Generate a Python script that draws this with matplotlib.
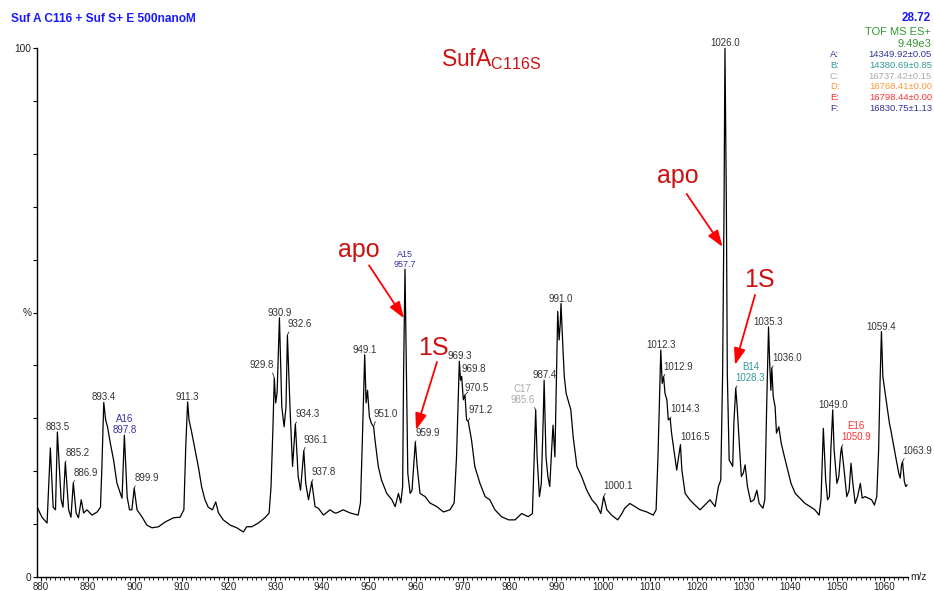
import numpy as np
import matplotlib
matplotlib.use("Agg")
import matplotlib.pyplot as plt
from matplotlib.ticker import MultipleLocator

plt.rcParams['font.family'] = ['Liberation Sans', 'DejaVu Sans']
plt.rcParams['mathtext.fontset'] = 'custom'
plt.rcParams['mathtext.rm'] = 'Liberation Sans'

# ---------------- data ----------------
title = "Suf A C116 + Suf S+ E 500nanoM"
retention = "28.72"
scan_type = "TOF MS ES+"
base_peak = "9.49e3"

series_letters = ['A', 'B', 'C', 'D', 'E', 'F']
series_mass = [14349.92, 14380.69, 16737.42, 16768.41, 16798.44, 16830.75]
series_err = [0.05, 0.85, 0.15, 0.00, 0.00, 1.13]
series_colors = ['#333399', '#339999', '#aaaaaa', '#ff9933', '#ff3333', '#333399']

mz = [
    879.2, 880.2, 881.3, 882.0, 882.6, 883.1, 883.5, 884.3, 884.7, 885.2, 885.9, 886.4, 886.9, 887.5, 888.0, 888.6, 889.1, 889.8, 890.9, 892.0, 892.7,
    893.0, 893.4, 893.8, 894.2, 894.8, 895.5, 896.2, 896.9, 897.3, 897.8, 898.4, 898.9, 899.4, 899.9, 900.5, 901.6, 902.6, 903.7, 905.1, 906.5, 908.3, 909.7, 910.5,
    910.9, 911.3, 911.6, 912.2, 912.9, 913.6, 914.3, 915.0, 915.7, 916.6, 917.3, 917.9, 918.9, 920.4, 921.8, 923.2, 923.9, 925.0, 926.4, 927.8, 928.7,
    929.1, 929.5, 929.8, 930.1, 930.4, 930.9, 931.4, 931.9, 932.3, 932.6, 933.2, 933.7, 934.3, 934.9, 935.4, 936.1, 936.5, 937.1, 937.8, 938.5, 939.2, 940.3, 941.7, 942.7,
    943.1, 944.5, 946.0, 947.7, 948.2, 948.6, 949.1, 949.4, 949.7, 950.1, 950.5, 951.0, 951.3, 952.0, 952.7, 953.8, 954.9, 955.6, 956.3, 956.8, 957.2, 957.4, 957.7, 958.0, 958.3, 958.8, 959.2, 959.5, 959.9, 960.3, 960.9, 962.0, 963.0, 964.5, 965.9, 967.3, 968.2,
    968.7, 969.3, 969.55, 969.8, 970.15, 970.5, 970.85, 971.2, 971.9, 972.6, 973.7, 974.8, 975.8, 976.9, 978.3, 979.8, 981.2, 982.6, 984.0, 984.9,
    985.2, 985.6, 985.9, 986.4, 986.8, 987.2, 987.4, 987.8, 988.2, 988.6, 989.0, 989.3, 989.7, 990.0, 990.3, 990.6, 990.85, 991.0, 991.4, 991.7, 992.1, 992.7, 993.1, 993.6, 994.4, 995.4, 996.5, 997.6, 998.6, 999.5, 1000.1, 1000.8, 1001.8, 1003.1, 1004.0,
    1004.6, 1005.7, 1006.8, 1007.9, 1009.3, 1010.7, 1011.3, 1011.7, 1012.3, 1012.6, 1012.9, 1013.2, 1013.6, 1013.9, 1014.3, 1014.6, 1015.1, 1015.7, 1016.1, 1016.5, 1016.8, 1017.5, 1018.5, 1019.6, 1020.7, 1021.7, 1022.8, 1023.9, 1024.6, 1025.1,
    1025.5, 1025.8, 1026.0, 1026.3, 1026.5, 1026.9, 1027.3, 1027.65, 1027.9, 1028.3, 1028.6, 1029.1, 1029.5, 1029.9, 1030.3, 1030.8, 1031.5, 1032.2, 1032.8, 1033.3, 1034.1, 1034.5,
    1034.9, 1035.3, 1035.55, 1035.8, 1036.0, 1036.3, 1036.7, 1037.0, 1037.5, 1038.0, 1038.7, 1039.4, 1040.1, 1041.0, 1042.0, 1043.1, 1044.2, 1045.2, 1046.1, 1046.5, 1047.0, 1047.5, 1047.9, 1048.3, 1048.6, 1049.0, 1049.3, 1049.9, 1050.3, 1050.7, 1050.9, 1051.5, 1052.0, 1052.5, 1052.9, 1053.3, 1053.8, 1054.3, 1054.9, 1055.3, 1055.9, 1056.6, 1057.3, 1057.9, 1058.4,
    1058.8, 1059.1, 1059.4, 1059.7, 1059.9, 1060.3, 1060.7, 1061.1, 1061.4, 1061.9, 1062.3, 1062.7, 1063.1, 1063.4, 1063.7, 1063.9, 1064.3, 1064.6, 1064.85,
]
intensity = [
    13.2, 11.3, 10.2, 24.4, 13.2, 12.7, 27.4, 14.6, 13.2, 21.7, 12.7, 11.3, 17.8, 12.1, 11.2, 14.6, 12.1, 12.7, 11.7, 12.3, 13.2,
    20.8, 33.0, 29.7, 28.4, 25.3, 22.1, 17.8, 15.9, 14.9, 26.8, 15.1, 12.7, 12.7, 16.8, 12.7, 11.3, 9.8, 9.3, 9.5, 10.4, 11.2, 11.3, 12.7,
    24.6, 33.1, 29.7, 27.2, 24.0, 20.8, 17.0, 14.6, 13.2, 12.7, 14.2, 12.1, 10.8, 9.8, 9.3, 8.5, 9.5, 9.5, 10.2, 11.2, 12.1,
    17.0, 27.8, 37.6, 32.9, 34.8, 49.0, 32.2, 28.4, 32.2, 45.7, 31.0, 20.9, 28.9, 19.0, 16.4, 23.9, 17.8, 14.6, 18.0, 13.3, 13.0, 11.7, 12.7, 12.1,
    12.1, 12.7, 12.1, 11.7, 14.0, 25.9, 42.0, 32.9, 35.3, 30.3, 29.1, 28.4, 25.9, 20.9, 18.3, 15.8, 14.6, 13.3, 15.8, 14.0, 17.1, 38.5, 58.2, 38.5, 19.6, 15.8, 16.4, 20.2, 25.5, 20.9, 15.8, 15.2, 14.0, 13.3, 12.3, 12.7, 14.0,
    22.7, 40.8, 37.2, 37.9, 33.5, 34.4, 29.7, 29.4, 25.9, 20.9, 17.7, 15.2, 14.6, 12.7, 11.4, 10.8, 10.8, 12.0, 11.4, 12.0,
    20.2, 31.6, 22.7, 15.2, 17.7, 29.7, 37.2, 22.7, 19.0, 17.1, 24.0, 28.7, 22.7, 36.0, 50.2, 44.8, 48.0, 51.7, 43.5, 37.9, 34.7, 32.8, 31.6, 26.5, 20.9, 19.0, 16.4, 14.6, 13.6, 12.0, 15.2, 12.7, 11.7, 10.8, 12.0,
    13.0, 13.9, 13.3, 12.7, 12.3, 11.7, 12.7, 22.7, 42.9, 36.6, 37.9, 34.7, 33.5, 29.7, 30.0, 27.2, 24.0, 20.2, 22.7, 25.0, 20.2, 15.8, 14.6, 13.6, 12.7, 13.6, 14.6, 13.3, 17.1, 18.3,
    38.5, 70.0, 100.0, 70.0, 38.5, 22.1, 21.5, 20.9, 29.1, 35.7, 32.2, 24.6, 19.0, 19.6, 21.2, 17.1, 14.2, 14.6, 16.4, 13.9, 13.0, 14.6,
    32.2, 47.3, 40.4, 35.3, 39.5, 34.1, 32.2, 27.2, 28.4, 25.3, 22.7, 20.2, 17.7, 15.8, 14.9, 13.9, 13.3, 12.7, 11.7, 14.6, 28.1, 18.3, 14.6, 15.2, 24.0, 31.6, 24.0, 17.7, 19.0, 23.4, 24.6, 19.6, 15.2, 16.4, 21.5, 17.7, 13.9, 15.2, 17.7, 14.9, 15.2, 14.9, 14.6, 13.6, 15.2,
    24.0, 36.6, 46.4, 37.9, 36.6, 34.1, 31.6, 29.1, 27.8, 25.3, 23.4, 21.5, 19.6, 18.7, 21.2, 21.8, 18.0, 17.1, 17.4,
]

# peaks labelled directly above the apex
centered_peaks = [883.5, 893.4, 911.3, 930.9, 949.1, 969.3, 987.4, 991.0, 1012.3, 1026.0, 1035.3, 1049.0, 1059.4]
# peaks labelled with a leader line (text to the upper right)
leader_peaks = [885.2, 886.9, 899.9, 932.6, 934.3, 936.1, 937.8, 951.0, 959.9, 969.8, 970.5, 971.2,
                1000.1, 1012.9, 1014.3, 1016.5, 1036.0, 1063.9]
leader_dy = [6, 7, 7, 8, 7, 8, 7, 10, 6, 5, 4, 8, 8, 7, 6, 5, 7, 8]
# peaks labelled with a leader line (text to the upper left)
leader_left_peaks = [929.8]
# charge-state assignments
assigned_names = ['A16', 'A15', 'C17', 'B14', 'E16']
assigned_peaks = [897.8, 957.7, 985.6, 1028.3, 1050.9]
assigned_series = ['A', 'A', 'C', 'B', 'E']

# red annotations: text, target m/z, target intensity
notes = ['apo', '1S', 'apo', '1S']
note_mz = [957.5, 960.05, 1025.5, 1028.15]
note_int = [48.9, 27.8, 62.4, 40.1]

# ---------------- figure ----------------
W, H = 934, 591
fig = plt.figure(figsize=(W / 100, H / 100), dpi=100)
ax = fig.add_axes([37 / W, 14 / H, 871 / W, 529 / H])

ax.plot(mz, intensity, color='black', lw=0.9)
ax.set_xlim(879.15, 1065.07)
ax.set_ylim(0, 100)

for s in ['top', 'right']:
    ax.spines[s].set_visible(False)
for s in ['left', 'bottom']:
    ax.spines[s].set_linewidth(1.0)

ax.xaxis.set_major_locator(MultipleLocator(10))
ax.xaxis.set_minor_locator(MultipleLocator(1))
ax.tick_params(axis='x', which='major', length=3, width=0.8, pad=0.3, labelsize=7, labelcolor='#222222')
ax.tick_params(axis='x', which='minor', length=2, width=0.6)
ax.set_yticks(np.arange(0, 101, 10))
ax.set_yticklabels(['0', '', '', '', '', '%', '', '', '', '', '100'])
ax.tick_params(axis='y', which='major', length=3, width=0.8, pad=1, labelsize=7.3, labelcolor='#222222')

ax.text(1.003, 0.0, 'm/z', transform=ax.transAxes, fontsize=7.3, color='#222222', ha='left', va='center')

lab_col = '#333333'
def apex(m):
    return float(np.interp(m, mz, intensity))

for m in centered_peaks:
    ax.annotate(f'{m:.1f}', xy=(m, apex(m)), xytext=(0, 2), textcoords='offset pixels',
                ha='center', va='baseline', fontsize=7, color=lab_col)

line_kw = dict(arrowstyle='-', color='#222222', lw=0.6, shrinkA=0, shrinkB=0)
for m, dy in zip(leader_peaks, leader_dy):
    ax.annotate(f'{m:.1f}', xy=(m, apex(m)), xytext=(0, dy), textcoords='offset pixels',
                ha='left', va='baseline', fontsize=7, color=lab_col,
                arrowprops=dict(relpos=(0.12, 0.1), **line_kw))
for m in leader_left_peaks:
    ax.annotate(f'{m:.1f}', xy=(m, apex(m)), xytext=(0, 10), textcoords='offset pixels',
                ha='right', va='baseline', fontsize=7, color=lab_col,
                arrowprops=dict(relpos=(0.88, 0.1), **line_kw))

col_of = dict(zip(series_letters, series_colors))
for name, m, ser in zip(assigned_names, assigned_peaks, assigned_series):
    c = col_of[ser]
    txt = f'{name}\n{m:.1f}'
    if name in ('A16', 'A15'):
        ax.annotate(txt, xy=(m, apex(m)), xytext=(0, 2), textcoords='offset pixels',
                    ha='center', va='baseline', fontsize=7 if name == 'A16' else 6.5,
                    color=c, multialignment='center', linespacing=1.1)
    elif name == 'C17':
        ax.annotate(txt, xy=(m, apex(m)), xytext=(-1, 7), textcoords='offset pixels',
                    ha='right', va='baseline', fontsize=7, color=c, multialignment='center',
                    linespacing=1.1, arrowprops=dict(relpos=(0.9, 0.05), **line_kw))
    else:
        ax.annotate(txt, xy=(m, apex(m)), xytext=(0, 7), textcoords='offset pixels',
                    ha='left', va='baseline', fontsize=7, color=c, multialignment='center',
                    linespacing=1.1, arrowprops=dict(relpos=(0.12, 0.05), **line_kw))

# red arrows and notes
tail_off = [(-35, 53), (21, 68), (-36, 53), (20, 70)]
text_off = [(-45, 61), (17, 75), (-45, 64), (24, 78)]
for t, m, v, (adx, ady), (tdx, tdy) in zip(notes, note_mz, note_int, tail_off, text_off):
    ax.annotate('', xy=(m, v), xytext=(adx, ady), textcoords='offset pixels',
                arrowprops=dict(arrowstyle='-|>,head_length=1.0,head_width=0.35', mutation_scale=10,
                                color='#ff0000', lw=1.3, shrinkA=0, shrinkB=0))
    ax.annotate(t, xy=(m, v), xytext=(tdx, tdy), textcoords='offset pixels',
                ha='center', va='baseline', fontsize=18, color='#cc1111')

ax.text(0.464, 0.966, r'SufA$_{\mathregular{C116S}}$', transform=ax.transAxes,
        fontsize=16.5, color='#cc1111', ha='left', va='baseline')

# header texts
def fx(px):
    return px / W
def fy(py):
    return 1 - py / H

fig.text(fx(11), fy(22.5), title, fontsize=8.6, fontweight='bold', color='#1a1aff', ha='left', va='baseline')
fig.text(fx(931), fy(21), retention, fontsize=8.4, fontweight='bold', color='#1a1aff', ha='right', va='baseline')
fig.text(fx(931), fy(35), scan_type, fontsize=8, color='#339933', ha='right', va='baseline')
fig.text(fx(931), fy(46.7), base_peak, fontsize=8, color='#339933', ha='right', va='baseline')
for i, (L, ms, er, c) in enumerate(zip(series_letters, series_mass, series_err, series_colors)):
    yb = 57.3 + 10.7 * i
    fig.text(fx(830), fy(yb), f'{L}:', fontsize=6.8, color=c, ha='left', va='baseline')
    fig.text(fx(932), fy(yb), f'{ms:.2f}\u00b1{er:.2f}', fontsize=6.8, color=c, ha='right', va='baseline')

fig.savefig('out.png', dpi=100)
